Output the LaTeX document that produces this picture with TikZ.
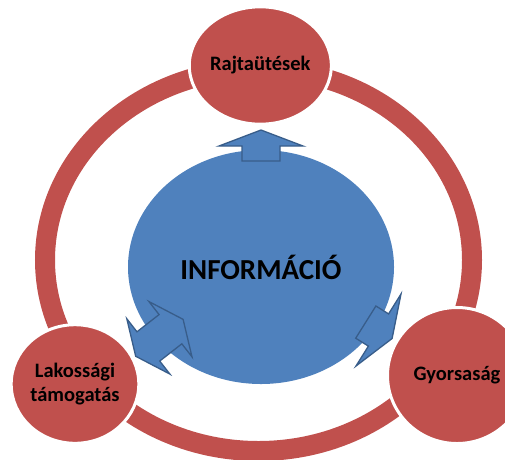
\documentclass[tikz,border=0pt]{standalone}
\usepackage{fontspec}
\setmainfont{Carlito}
\usetikzlibrary{shapes.geometric}
\definecolor{cred}{HTML}{C0504D}
\definecolor{cblue}{HTML}{4F81BD}
\definecolor{cbline}{HTML}{385D8A}
\begin{document}
\begin{tikzpicture}[x=1pt,y=-1pt,
  ring/.style={draw=cred, line width=20pt},
  hub/.style={ellipse, fill=cblue, inner sep=0pt, font=\bfseries\fontsize{29}{34}\selectfont},
  sat/.style={ellipse, fill=cred, draw=white, line width=3pt, inner sep=0pt, align=center,
    font=\bfseries\fontsize{20.5}{24}\selectfont},
  blockarrow/.style={fill=cblue, draw=cbline, line width=1.3pt, line join=miter}]
\useasboundingbox (0,0) rectangle (505,459);
% outer ring
\coordinate (rc) at (258.5,260);
\draw[ring] (rc) ellipse [x radius=213.5, y radius=191];
% central ellipse
\node[hub, minimum width=266pt, minimum height=234pt] (info) at (261,267) {INFORMÁCIÓ};
% arrows
\draw[blockarrow] (261,130) -- (303,146) -- (280,146) -- (280,161) -- (242,161) -- (242,146) -- (219,146) -- cycle;
\draw[blockarrow] (392.1,338.5) -- (356,366) -- (368.4,346.1) -- (355.7,338.2) -- (375.9,306) -- (388.6,313.9) -- (401,294) -- cycle;
\draw[blockarrow] (183.1,319.35) -- (191.99,356.84) -- (181.84,343.81) -- (159.72,361.03) -- (169.87,374.06) -- (135.7,356.25) -- (126.81,318.76) -- (136.96,331.79) -- (159.08,314.57) -- (148.93,301.54) -- cycle;
% satellite circles
\node[sat, minimum width=123.6pt, minimum height=117.4pt] (raj) at (260.3,65.5) {Rajtaütések};
\node[sat, minimum width=127.6pt, minimum height=118.6pt] (lak) at (75,384) {Lakossági\\támogatás};
\node[sat, minimum width=139pt, minimum height=136pt] (gyo) at (457,375.5) {Gyorsaság};
\end{tikzpicture}
\end{document}
